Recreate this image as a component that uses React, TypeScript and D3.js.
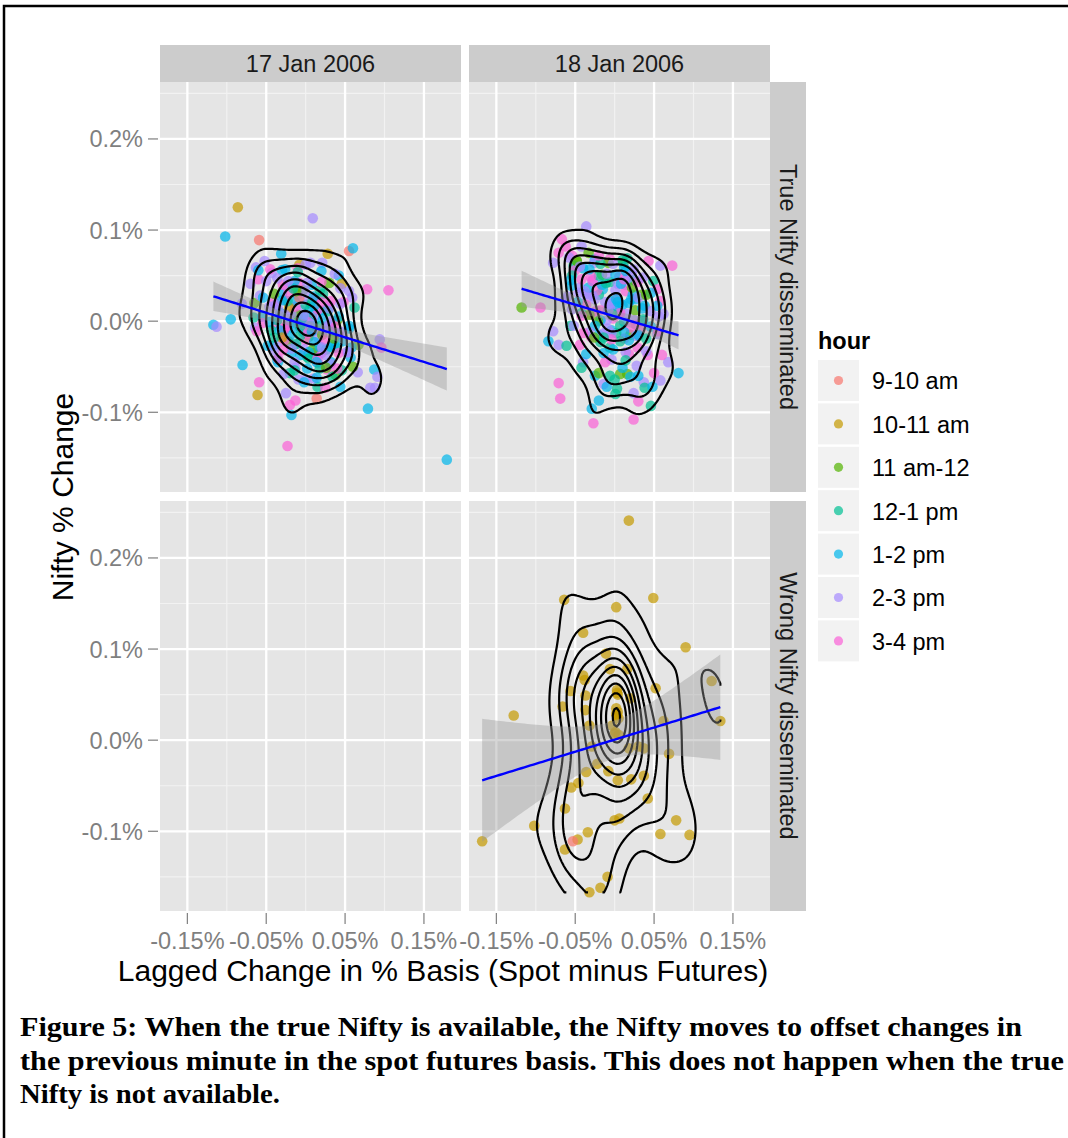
import React, { useEffect, useRef } from "react";
import * as d3 from "d3";

// [lagged change in % basis, nifty % change, hour index]
type Pt = [number, number, number];

const hours = ["9-10 am", "10-11 am", "11 am-12", "12-1 pm", "1-2 pm", "2-3 pm", "3-4 pm"];
const hourColors = ["#F8766D", "#C49A00", "#53B400", "#00C094", "#00B6EB", "#A58AFF", "#FB61D7"];
const dates = ["17 Jan 2006", "18 Jan 2006"];
const regimes = ["True Nifty disseminated", "Wrong Nifty disseminated"];
const xBreaks = [-0.15, -0.05, 0.05, 0.15];
const xMinorBreaks = [-0.1, 0, 0.1];
const yBreaks = [-0.1, 0, 0.1, 0.2];
const yMinorBreaks = [-0.15, -0.05, 0.05, 0.15, 0.25];
const xLimits = [-0.1847, 0.197];
const yLimits = [-0.1875, 0.2625];

const captionLines = [
  "Figure 5: When the true Nifty is available, the Nifty moves to offset changes in",
  "the previous minute in the spot futures basis. This does not happen when the true",
  "Nifty is not available.",
];

const jan17True: Pt[] = [
  [-0.086, 0.125, 1], [0.009, 0.113, 5], [-0.102, 0.093, 4], [-0.059, 0.089, 0], [-0.031, 0.074, 4],
  [0.028, 0.074, 1], [0.055, 0.077, 0], [0.06, 0.08, 4], [0.078, 0.035, 6], [0.105, 0.034, 6],
  [-0.117, -0.004, 4], [-0.113, -0.006, 5], [-0.095, 0.002, 4], [-0.08, -0.048, 4], [-0.059, -0.067, 6],
  [-0.061, -0.081, 1], [-0.025, -0.079, 5], [-0.02, -0.092, 6], [-0.013, -0.087, 6], [-0.018, -0.103, 4],
  [0.014, -0.085, 0], [-0.023, -0.137, 6], [0.079, -0.096, 4], [0.179, -0.152, 4], [0.094, -0.02, 5],
  [0.096, -0.029, 6], [0.087, -0.053, 4], [0.091, -0.061, 5], [0.082, -0.073, 5], [0.088, -0.073, 5],
  [0.066, -0.056, 5], [0.044, -0.072, 4], [0.038, -0.059, 2], [0.015, -0.072, 3], [0.067, -0.026, 2],
  [0.062, 0.015, 3], [0.059, 0.026, 5], [0.055, 0.033, 5], [0.006, 0.064, 5], [0.021, 0.064, 5],
  [-0.008, 0.062, 1], [-0.063, 0.059, 5], [-0.043, 0.053, 5], [-0.026, 0.057, 4], [-0.07, 0.041, 5],
  [-0.06, 0.046, 6], [-0.081, 0.019, 5], [-0.065, 0.02, 2], [-0.066, 0.004, 3], [-0.064, -0.007, 5],
  [-0.041, -0.027, 4], [-0.036, -0.042, 4], [-0.035, -0.045, 4], [-0.013, -0.051, 5], [-0.009, -0.064, 5],
  [0.0, -0.064, 5], [0.027, -0.053, 6], [0.038, -0.029, 3], [0.058, -0.029, 4], [0.057, -0.04, 4],
  [0.042, 0.05, 4], [0.046, 0.041, 1], [0.037, 0.052, 5],
  [0.002, -0.005, 4], [-0.004, 0.002, 3], [0.006, -0.012, 5], [-0.008, -0.006, 6], [0.01, -0.001, 4],
  [0.001, 0.006, 5], [-0.012, 0.001, 3], [0.004, -0.017, 2], [-0.003, -0.012, 4], [0.013, -0.01, 6],
  [-0.006, 0.012, 5], [0.008, 0.007, 3], [-0.015, -0.008, 4], [0.016, -0.018, 5], [0.0, -0.021, 6],
  [-0.01, 0.007, 2], [0.005, 0.013, 4], [-0.018, 0.008, 5], [0.019, -0.005, 3], [-0.001, -0.007, 5],
  [0.003, -0.001, 6], [-0.007, -0.016, 3], [0.011, -0.023, 4], [-0.013, 0.016, 6], [0.014, 0.007, 5],
  [-0.02, -0.003, 4], [0.021, -0.015, 2], [0.007, -0.005, 3], [-0.005, -0.002, 4], [0.0, 0.018, 3],
  [0.006, -0.003, 5], [-0.004, 0.004, 4], [-0.007, -0.006, 3], [0.003, -0.013, 6], [0.008, -0.011, 4],
  [-0.002, 0.006, 5],
  [-0.025, 0.022, 5], [0.024, 0.012, 4], [-0.028, -0.012, 6], [0.026, -0.031, 3], [-0.01, 0.029, 4],
  [0.012, 0.025, 6], [-0.014, -0.026, 5], [0.01, -0.035, 4], [-0.032, 0.009, 3], [0.031, -0.004, 5],
  [-0.022, -0.022, 2], [0.02, -0.035, 6], [-0.03, 0.03, 4], [0.03, 0.017, 5], [-0.003, 0.034, 2],
  [0.002, -0.039, 3], [-0.036, -0.002, 6], [0.036, -0.026, 4], [-0.024, 0.038, 5], [0.022, 0.03, 3],
  [-0.018, -0.035, 4], [0.016, -0.046, 5], [-0.04, 0.021, 6], [0.04, 0.001, 2], [-0.034, -0.023, 5],
  [0.032, -0.045, 4], [-0.008, 0.042, 6], [0.008, 0.04, 4], [-0.044, -0.01, 3], [0.042, -0.015, 6],
  [-0.05, 0.044, 5], [0.048, 0.021, 6], [-0.055, 0.005, 4], [0.052, -0.034, 5], [-0.03, 0.056, 4],
  [0.03, 0.042, 2], [-0.035, -0.041, 6], [0.034, -0.061, 3], [-0.058, 0.028, 5], [0.055, -0.005, 4],
  [-0.01, 0.058, 6], [0.01, -0.063, 5], [-0.048, -0.027, 4], [0.046, -0.054, 3], [-0.045, 0.057, 6],
  [0.044, 0.036, 5], [-0.02, -0.057, 3], [0.02, 0.055, 4], [-0.062, -0.011, 6], [0.06, -0.05, 2],
  [-0.052, 0.066, 5], [-0.06, 0.056, 4], [0.0, 0.062, 5], [-0.002, -0.067, 4], [0.025, -0.073, 6],
  [-0.028, -0.058, 5],
  [0.025, -0.009, 5], [0.022, 0.003, 4], [0.016, 0.013, 6], [0.006, 0.02, 3], [-0.004, 0.024, 5],
  [-0.014, 0.022, 4], [-0.021, 0.015, 1], [-0.026, 0.007, 5], [-0.025, -0.006, 6], [-0.02, -0.016, 4],
  [-0.012, -0.025, 3], [-0.002, -0.031, 5], [0.009, -0.031, 2], [0.018, -0.028, 4], [0.024, -0.02, 6],
  [0.028, -0.005, 5], [0.011, 0.017, 4], [-0.023, 0.022, 3], [-0.027, -0.009, 6], [0.004, -0.034, 4],
  [0.021, -0.029, 5], [-0.008, 0.026, 0], [0.035, -0.011, 4], [0.033, 0.0, 5], [0.028, 0.011, 3],
  [0.02, 0.021, 6], [0.01, 0.027, 4], [-0.001, 0.032, 5], [-0.012, 0.033, 2], [-0.022, 0.03, 6],
  [-0.03, 0.023, 4], [-0.035, 0.013, 5], [-0.036, 0.001, 3], [-0.033, -0.01, 4], [-0.027, -0.021, 6],
  [-0.018, -0.03, 5], [-0.007, -0.037, 4], [0.004, -0.041, 3], [0.015, -0.041, 6], [0.025, -0.037, 5],
  [0.032, -0.028, 4], [0.036, -0.019, 2], [0.038, -0.006, 6], [-0.038, 0.018, 5], [0.014, -0.045, 4],
  [-0.016, 0.036, 3], [0.03, 0.014, 5], [-0.03, -0.018, 1], [0.046, -0.012, 5], [0.042, 0.005, 4],
  [0.032, 0.022, 6], [0.018, 0.034, 3], [0.002, 0.042, 5], [-0.014, 0.044, 4], [-0.029, 0.04, 6],
  [-0.04, 0.03, 2], [-0.046, 0.016, 5], [-0.046, -0.001, 4], [-0.04, -0.018, 3], [-0.029, -0.032, 6],
  [-0.014, -0.045, 5], [0.002, -0.052, 4], [0.018, -0.052, 3], [0.032, -0.047, 5], [0.042, -0.035, 6],
  [0.047, -0.022, 4], [-0.022, 0.044, 5], [0.026, -0.051, 2], [0.055, -0.008, 4], [0.044, 0.019, 5],
  [0.02, 0.043, 6], [-0.01, 0.054, 3], [-0.036, 0.047, 5], [-0.054, 0.026, 4], [-0.055, -0.002, 6],
  [-0.04, -0.032, 5], [-0.014, -0.054, 3], [0.014, -0.062, 4], [0.04, -0.052, 6], [0.054, -0.034, 5],
];

const jan18True: Pt[] = [
  [-0.036, 0.104, 5], [-0.067, 0.09, 6], [-0.071, 0.075, 6], [-0.054, 0.072, 6], [-0.048, 0.066, 2],
  [-0.042, 0.082, 5], [-0.033, 0.075, 2], [-0.052, 0.061, 3], [-0.078, 0.064, 5], [-0.025, 0.068, 4],
  [-0.006, 0.068, 6], [0.011, 0.064, 2], [0.016, 0.069, 3], [0.043, 0.066, 6], [0.058, 0.061, 5],
  [0.073, 0.061, 6], [0.024, 0.057, 5], [0.049, 0.044, 3], [0.054, 0.035, 6], [0.058, 0.022, 6],
  [0.062, 0.008, 5], [-0.118, 0.015, 2], [-0.094, 0.015, 6], [-0.078, -0.011, 5], [-0.084, -0.022, 4],
  [-0.071, -0.026, 5], [-0.061, -0.027, 3], [-0.056, -0.005, 3], [-0.063, 0.024, 5], [-0.044, 0.037, 5],
  [-0.071, -0.068, 6], [-0.069, -0.085, 6], [-0.029, -0.096, 4], [-0.02, -0.087, 4], [-0.027, -0.112, 6],
  [0.024, -0.108, 6], [0.046, -0.093, 3], [0.081, -0.057, 4], [0.068, -0.045, 5], [0.058, -0.065, 5],
  [0.037, -0.067, 5], [0.003, -0.074, 3], [0.001, -0.08, 3], [-0.014, -0.069, 5], [-0.025, -0.06, 4],
  [-0.006, -0.06, 3], [0.007, -0.058, 2], [0.016, -0.058, 2], [0.03, -0.06, 4], [-0.04, -0.045, 5],
  [-0.042, -0.051, 3],
  [0.0, 0.015, 5], [-0.005, 0.022, 4], [0.006, 0.007, 5], [-0.008, 0.012, 3], [0.01, 0.018, 4],
  [0.003, 0.025, 6], [-0.012, 0.021, 5], [0.012, -0.001, 4], [-0.002, 0.003, 6], [0.015, 0.008, 5],
  [-0.015, 0.035, 4], [0.007, -0.005, 3], [-0.01, 0.001, 5], [0.018, 0.02, 4], [-0.018, 0.012, 6],
  [0.001, 0.034, 5], [0.02, -0.015, 2], [-0.004, -0.01, 4], [0.012, -0.019, 6], [-0.02, 0.029, 3],
  [0.004, 0.016, 4], [-0.006, 0.015, 5],
  [-0.006, 0.02, 5], [0.004, 0.021, 4], [0.007, 0.009, 6], [-0.003, 0.008, 3], [-0.008, 0.012, 5],
  [0.002, 0.024, 4],
  [-0.028, 0.045, 5], [0.026, 0.024, 4], [-0.03, 0.008, 6], [0.03, -0.016, 3], [-0.016, 0.051, 2],
  [0.014, 0.04, 5], [-0.02, -0.015, 4], [0.018, -0.036, 6], [-0.036, 0.03, 5], [0.036, 0.0, 4],
  [-0.006, -0.029, 3], [0.006, 0.049, 6], [-0.03, -0.017, 6], [0.028, -0.049, 5], [-0.04, 0.058, 4],
  [0.034, 0.029, 2], [-0.004, -0.042, 5], [0.01, -0.051, 4], [-0.042, 0.009, 3], [0.042, -0.037, 6],
  [-0.026, 0.064, 5], [0.024, 0.045, 3], [-0.012, -0.045, 6], [0.02, -0.061, 4],
  [-0.05, 0.056, 6], [-0.058, 0.07, 5], [-0.062, 0.082, 6], [-0.048, 0.066, 2], [-0.054, 0.05, 3],
  [0.046, 0.031, 4], [-0.052, -0.005, 5], [0.05, -0.057, 6], [-0.036, -0.036, 4], [0.038, -0.073, 3],
  [-0.056, 0.045, 4], [0.054, -0.014, 5], [-0.02, -0.057, 2], [0.024, -0.079, 5], [-0.044, -0.026, 6],
  [0.048, -0.072, 4], [0.0, -0.064, 3], [-0.06, 0.027, 5], [0.06, -0.037, 6], [0.012, 0.059, 4],
  [-0.008, 0.064, 2], [0.03, -0.088, 6], [-0.01, -0.072, 4], [0.056, 0.005, 5],
  [-0.025, 0.024, 5], [-0.022, 0.034, 6], [-0.016, 0.04, 4], [-0.006, 0.043, 3], [0.004, 0.041, 5],
  [0.014, 0.033, 6], [0.021, 0.024, 4], [0.026, 0.012, 2], [0.025, 0.001, 5], [0.02, -0.007, 6],
  [0.012, -0.012, 4], [0.002, -0.013, 3], [-0.009, -0.008, 5], [-0.018, 0.001, 4], [-0.024, 0.011, 6],
  [-0.028, 0.028, 5], [-0.011, 0.042, 3], [0.023, 0.029, 4], [0.027, -0.004, 6], [-0.004, -0.013, 5],
  [-0.021, 0.0, 2], [0.008, 0.041, 4], [-0.035, 0.026, 5], [-0.033, 0.037, 4], [-0.028, 0.044, 6],
  [-0.02, 0.05, 3], [-0.01, 0.052, 5], [0.001, 0.051, 4], [0.012, 0.046, 6], [0.022, 0.037, 2],
  [0.03, 0.026, 5], [0.035, 0.014, 4], [0.036, 0.002, 3], [0.033, -0.009, 6], [0.027, -0.016, 5],
  [0.018, -0.021, 4], [0.007, -0.022, 3], [-0.004, -0.02, 6], [-0.015, -0.014, 5], [-0.025, -0.005, 4],
  [-0.032, 0.007, 2], [-0.036, 0.018, 6], [-0.038, 0.033, 5], [0.038, 0.017, 4], [-0.014, -0.018, 3],
  [0.016, 0.047, 5], [-0.03, 0.049, 6], [0.03, -0.015, 4], [-0.046, 0.031, 5], [-0.042, 0.046, 6],
  [-0.032, 0.057, 4], [-0.018, 0.063, 3], [-0.002, 0.063, 5], [0.014, 0.055, 4], [0.029, 0.043, 6],
  [0.04, 0.029, 2], [0.046, 0.011, 5], [0.046, -0.006, 4], [0.04, -0.019, 3], [0.029, -0.029, 6],
  [0.014, -0.034, 5], [-0.002, -0.031, 4], [-0.018, -0.023, 3], [-0.032, -0.012, 5], [-0.042, 0.006, 6],
  [-0.047, 0.021, 4], [0.022, 0.051, 5], [-0.026, -0.018, 2], [-0.055, 0.039, 4], [-0.044, 0.06, 5],
  [-0.02, 0.072, 6], [0.01, 0.067, 3], [0.036, 0.048, 5], [0.054, 0.017, 4], [0.055, -0.011, 6],
  [0.04, -0.033, 5], [0.014, -0.043, 3], [-0.014, -0.035, 4], [-0.04, -0.013, 6], [-0.054, 0.013, 5],
];

const jan18Wrong: Pt[] = [
  [0.018, 0.241, 1], [-0.064, 0.154, 1], [0.002, 0.146, 1], [0.049, 0.156, 1], [-0.04, 0.118, 1],
  [0.09, 0.102, 1], [-0.011, 0.095, 1], [-0.006, 0.078, 1], [0.016, 0.078, 1], [-0.04, 0.071, 1],
  [-0.038, 0.066, 1], [-0.056, 0.054, 1], [-0.037, 0.049, 1], [0.003, 0.055, 1], [0.02, 0.046, 1],
  [0.052, 0.057, 1], [0.123, 0.065, 1], [-0.128, 0.027, 1], [-0.066, 0.037, 1], [-0.037, 0.033, 1],
  [0.004, 0.031, 1], [0.003, 0.027, 1], [-0.032, 0.016, 1], [-0.003, 0.016, 1], [0.0, 0.007, 1],
  [0.005, 0.006, 1], [0.062, 0.021, 1], [0.134, 0.021, 1], [-0.029, -0.007, 1], [0.018, -0.009, 1],
  [0.03, -0.007, 1], [0.037, -0.009, 1], [0.069, -0.015, 1], [-0.022, -0.026, 1], [-0.036, -0.035, 1],
  [-0.008, -0.034, 1], [0.004, -0.044, 1], [0.021, -0.043, 1], [0.037, -0.039, 1], [-0.055, -0.052, 1],
  [-0.046, -0.047, 1], [0.042, -0.064, 1], [-0.063, -0.075, 1], [0.0, -0.088, 1], [0.006, -0.086, 1],
  [0.078, -0.088, 1], [-0.102, -0.094, 1], [-0.034, -0.101, 1], [-0.047, -0.109, 1], [-0.053, -0.111, 0],
  [-0.063, -0.12, 1], [0.058, -0.103, 1], [0.095, -0.104, 1], [-0.168, -0.111, 1], [-0.009, -0.15, 1],
  [-0.018, -0.162, 1], [-0.032, -0.167, 1], [0.002, 0.029, 1], [0.001, 0.009, 1], [0.004, 0.05, 1],
  [0.003, 0.052, 1], [0.002, 0.035, 1], [0.005, 0.024, 1],
];

const panels = [
  { col: 0, row: 0, data: jan17True },
  { col: 1, row: 0, data: jan18True },
  { col: 0, row: 1, data: [] as Pt[] },
  { col: 1, row: 1, data: jan18Wrong },
];

const W = 1068;
const H = 1138;
const colX = [160, 469];
const rowY = [82, 501];
const panelW = 301;
const panelH = 410;
const sans = "'Liberation Sans', Arial, Helvetica, sans-serif";
const serif = "'Liberation Serif', 'Times New Roman', Times, serif";
const fmt = (spec: string) => (v: number) => d3.format(spec)(v).replace("\u2212", "-") + "%";

function bandwidthNrd(v: number[]) {
  const s = d3.deviation(v) as number;
  const q = v.slice().sort(d3.ascending);
  const iqr = (d3.quantileSorted(q, 0.75) as number) - (d3.quantileSorted(q, 0.25) as number);
  return 4 * 1.06 * Math.min(s, iqr / 1.34) * Math.pow(v.length, -0.2);
}

// same grid density estimate as MASS::kde2d (what stat_density2d uses)
function kde2d(data: Pt[], n: number) {
  const xv = data.map((d) => d[0]);
  const yv = data.map((d) => d[1]);
  const hx = bandwidthNrd(xv) / 4;
  const hy = bandwidthNrd(yv) / 4;
  const [xa, xb] = d3.extent(xv) as [number, number];
  const [ya, yb] = d3.extent(yv) as [number, number];
  const gx = d3.range(n).map((i) => xa + (i * (xb - xa)) / (n - 1));
  const gy = d3.range(n).map((j) => ya + (j * (yb - ya)) / (n - 1));
  const dn = (u: number) => Math.exp(-0.5 * u * u) / Math.sqrt(2 * Math.PI);
  const kx = gx.map((g) => xv.map((x) => dn((g - x) / hx)));
  const ky = gy.map((g) => yv.map((y) => dn((g - y) / hy)));
  const z: number[] = new Array(n * n);
  for (let j = 0; j < n; j++) {
    for (let i = 0; i < n; i++) {
      let s = 0;
      for (let k = 0; k < xv.length; k++) s += kx[i][k] * ky[j][k];
      z[j * n + i] = s / (xv.length * hx * hy);
    }
  }
  return { z, xa, xb, ya, yb };
}

// R's pretty(), used by stat_contour for its default breaks
function pretty(lo: number, hi: number, ndiv: number) {
  const h = 1.5, h5 = 0.5 + 1.5 * h;
  const cell = (hi - lo) / ndiv;
  const base = Math.pow(10, Math.floor(Math.log10(cell)));
  let unit = base;
  if (2 * base - cell < h * (cell - unit)) {
    unit = 2 * base;
    if (5 * base - cell < h5 * (cell - unit)) {
      unit = 5 * base;
      if (10 * base - cell < h * (cell - unit)) unit = 10 * base;
    }
  }
  const ns = Math.floor(lo / unit + 1e-7);
  const nu = Math.ceil(hi / unit - 1e-7);
  return d3.range(ns, nu + 1).map((k) => k * unit);
}

// contour rings that touch the grid border are left open, like contourLines in R
function openPieces(ring: number[][], n: number) {
  const r = ring.slice();
  const f = r[0], l = r[r.length - 1];
  if (f[0] !== l[0] || f[1] !== l[1]) r.push(f);
  const m = r.length - 1;
  const edge = (a: number[], b: number[]) =>
    (a[0] === 0 && b[0] === 0) || (a[0] === n && b[0] === n) ||
    (a[1] === 0 && b[1] === 0) || (a[1] === n && b[1] === n);
  let start = -1;
  for (let k = 0; k < m; k++) {
    if (edge(r[k], r[k + 1])) { start = k; break; }
  }
  if (start < 0) return [r];
  const out: number[][][] = [];
  let cur: number[][] = [];
  for (let s = 1; s <= m; s++) {
    const k = (start + s) % m;
    const a = r[k], b = r[k + 1];
    if (edge(a, b)) {
      if (cur.length > 1) out.push(cur);
      cur = [];
    } else {
      if (!cur.length) cur.push(a);
      cur.push(b);
    }
  }
  if (cur.length > 1) out.push(cur);
  return out;
}

function linFit(data: Pt[]) {
  const n = data.length;
  const mx = d3.mean(data, (d) => d[0]) as number;
  const my = d3.mean(data, (d) => d[1]) as number;
  let sxx = 0, sxy = 0;
  data.forEach((d) => { sxx += (d[0] - mx) ** 2; sxy += (d[0] - mx) * (d[1] - my); });
  const b = sxy / sxx;
  const a = my - b * mx;
  let rss = 0;
  data.forEach((d) => { rss += (d[1] - a - b * d[0]) ** 2; });
  const s2 = rss / (n - 2);
  const t = 1.96 + 2.4 / (n - 2);
  const [lo, hi] = d3.extent(data, (d) => d[0]) as [number, number];
  return d3.range(80).map((i) => {
    const x = lo + (i * (hi - lo)) / 79;
    const fit = a + b * x;
    const se = Math.sqrt(s2 * (1 / n + (x - mx) ** 2 / sxx));
    return { x, fit, lo: fit - t * se, hi: fit + t * se };
  });
}

export default function App() {
  const ref = useRef<SVGSVGElement>(null);

  useEffect(() => {
    const svg = d3.select(ref.current);
    svg.selectAll("*").remove();
    svg.append("rect").attr("width", W).attr("height", H).attr("fill", "#ffffff");
    const defs = svg.append("defs");

    panels.forEach((p, pi) => {
      const x0 = colX[p.col];
      const y0 = rowY[p.row];
      const xs = d3.scaleLinear().domain(xLimits).range([x0, x0 + panelW]);
      const ys = d3.scaleLinear().domain(yLimits).range([y0 + panelH, y0]);

      defs.append("clipPath").attr("id", `clip${pi}`)
        .append("rect").attr("x", x0).attr("y", y0).attr("width", panelW).attr("height", panelH);

      const g = svg.append("g");
      g.append("rect").attr("x", x0).attr("y", y0).attr("width", panelW).attr("height", panelH).attr("fill", "#e5e5e5");

      g.selectAll("line.xmin").data(xMinorBreaks).join("line")
        .attr("x1", (d) => xs(d)).attr("x2", (d) => xs(d)).attr("y1", y0).attr("y2", y0 + panelH)
        .attr("stroke", "#f2f2f2").attr("stroke-width", 1.1);
      g.selectAll("line.ymin").data(yMinorBreaks).join("line")
        .attr("y1", (d) => ys(d)).attr("y2", (d) => ys(d)).attr("x1", x0).attr("x2", x0 + panelW)
        .attr("stroke", "#f2f2f2").attr("stroke-width", 1.1);
      g.selectAll("line.xmaj").data(xBreaks).join("line")
        .attr("x1", (d) => xs(d)).attr("x2", (d) => xs(d)).attr("y1", y0).attr("y2", y0 + panelH)
        .attr("stroke", "#ffffff").attr("stroke-width", 2.3);
      g.selectAll("line.ymaj").data(yBreaks).join("line")
        .attr("y1", (d) => ys(d)).attr("y2", (d) => ys(d)).attr("x1", x0).attr("x2", x0 + panelW)
        .attr("stroke", "#ffffff").attr("stroke-width", 2.3);

      if (!p.data.length) return;
      const inner = svg.append("g").attr("clip-path", `url(#clip${pi})`);

      inner.selectAll("circle").data(p.data).join("circle")
        .attr("cx", (d) => xs(d[0])).attr("cy", (d) => ys(d[1])).attr("r", 5.3)
        .attr("fill", (d) => hourColors[d[2]]).attr("fill-opacity", 0.7);

      const n = 100;
      const dens = kde2d(p.data, n);
      const [zmin, zmax] = d3.extent(dens.z) as [number, number];
      const levels = pretty(zmin, zmax, 10).filter((t) => t > zmin && t < zmax);
      const cs = d3.contours().size([n, n]).thresholds(levels)(dens.z);
      const sx = (dens.xb - dens.xa) / (n - 1);
      const sy = (dens.yb - dens.ya) / (n - 1);
      const toPx = (c: number[]): [number, number] => [
        xs(Math.max(dens.xa, Math.min(dens.xb, dens.xa + (c[0] - 0.5) * sx))),
        ys(Math.max(dens.ya, Math.min(dens.yb, dens.ya + (c[1] - 0.5) * sy))),
      ];
      const path = d3.line();
      cs.forEach((mp) => {
        mp.coordinates.forEach((poly) => {
          poly.forEach((ring) => {
            openPieces(ring as number[][], n).forEach((piece) => {
              inner.append("path").attr("d", path(piece.map(toPx)))
                .attr("fill", "none").attr("stroke", "#000000").attr("stroke-width", 2.2)
                .attr("stroke-linejoin", "round");
            });
          });
        });
      });

      const fit = linFit(p.data);
      inner.append("path")
        .attr("d", d3.area<any>().x((d) => xs(d.x)).y0((d) => ys(d.lo)).y1((d) => ys(d.hi))(fit))
        .attr("fill", "#999999").attr("fill-opacity", 0.4);
      inner.append("path")
        .attr("d", d3.line<any>().x((d) => xs(d.x)).y((d) => ys(d.fit))(fit))
        .attr("fill", "none").attr("stroke", "#0000ff").attr("stroke-width", 2.4);
    });

    // facet strips
    dates.forEach((t, i) => {
      svg.append("rect").attr("x", colX[i]).attr("y", 45).attr("width", panelW).attr("height", 37).attr("fill", "#cccccc");
      svg.append("text").attr("x", colX[i] + panelW / 2).attr("y", 63.5).attr("dy", "0.35em")
        .attr("text-anchor", "middle").attr("font-family", sans).attr("font-size", 23.5).attr("fill", "#1a1a1a").text(t);
    });
    regimes.forEach((t, i) => {
      svg.append("rect").attr("x", 770).attr("y", rowY[i]).attr("width", 36).attr("height", panelH).attr("fill", "#cccccc");
      const cy = rowY[i] + panelH / 2;
      svg.append("text").attr("transform", `translate(788,${cy}) rotate(90)`).attr("dy", "0.35em")
        .attr("text-anchor", "middle").attr("font-family", sans).attr("font-size", 23.5).attr("fill", "#1a1a1a").text(t);
    });

    // axes
    rowY.forEach((y0) => {
      const ys = d3.scaleLinear().domain(yLimits).range([y0 + panelH, y0]);
      yBreaks.forEach((b) => {
        svg.append("line").attr("x1", 148).attr("x2", 158).attr("y1", ys(b)).attr("y2", ys(b))
          .attr("stroke", "#7f7f7f").attr("stroke-width", 1.2);
        svg.append("text").attr("x", 143).attr("y", ys(b)).attr("dy", "0.36em").attr("text-anchor", "end")
          .attr("font-family", sans).attr("font-size", 23.5).attr("fill", "#7f7f7f").text(fmt(".1f")(b));
      });
    });
    colX.forEach((x0) => {
      const xs = d3.scaleLinear().domain(xLimits).range([x0, x0 + panelW]);
      xBreaks.forEach((b) => {
        svg.append("line").attr("x1", xs(b)).attr("x2", xs(b)).attr("y1", 913).attr("y2", 924)
          .attr("stroke", "#7f7f7f").attr("stroke-width", 1.2);
        svg.append("text").attr("x", xs(b)).attr("y", 941).attr("dy", "0.36em").attr("text-anchor", "middle")
          .attr("font-family", sans).attr("font-size", 23.5).attr("fill", "#7f7f7f").text(fmt(".2f")(b));
      });
    });

    svg.append("text").attr("x", 443).attr("y", 970).attr("dy", "0.36em").attr("text-anchor", "middle")
      .attr("font-family", sans).attr("font-size", 30).attr("fill", "#000000")
      .text("Lagged Change in % Basis (Spot minus Futures)");
    svg.append("text").attr("transform", "translate(62,497) rotate(-90)").attr("dy", "0.36em").attr("text-anchor", "middle")
      .attr("font-family", sans).attr("font-size", 30).attr("fill", "#000000").text("Nifty % Change");

    // legend
    svg.append("text").attr("x", 818).attr("y", 341).attr("dy", "0.36em").attr("font-family", sans)
      .attr("font-size", 23.5).attr("font-weight", "bold").attr("fill", "#000000").text("hour");
    hours.forEach((h, i) => {
      const ky = 360 + i * 43.4;
      svg.append("rect").attr("x", 818).attr("y", ky).attr("width", 41).attr("height", 41).attr("fill", "#f2f2f2");
      svg.append("circle").attr("cx", 838.5).attr("cy", ky + 20.5).attr("r", 4.6)
        .attr("fill", hourColors[i]).attr("fill-opacity", 0.7);
      svg.append("text").attr("x", 872).attr("y", ky + 21).attr("dy", "0.36em").attr("font-family", sans)
        .attr("font-size", 23.5).attr("fill", "#000000").text(h);
    });

    // caption and page frame
    const capLen = [1002, 1044, 260];
    captionLines.forEach((line, i) => {
      svg.append("text").attr("x", 20).attr("y", 1036 + i * 33.5).attr("font-family", serif)
        .attr("font-size", 28).attr("font-weight", "bold").attr("fill", "#000000")
        .attr("textLength", capLen[i]).attr("lengthAdjust", "spacingAndGlyphs").text(line);
    });
    svg.append("path").attr("d", `M4,${H}V6H${W}`).attr("fill", "none").attr("stroke", "#000000").attr("stroke-width", 2.5);
  }, []);

  return (
    <div style={{ position: "absolute", left: 0, top: 0 }}>
      <svg ref={ref} width={W} height={H} style={{ display: "block" }} />
    </div>
  );
}
